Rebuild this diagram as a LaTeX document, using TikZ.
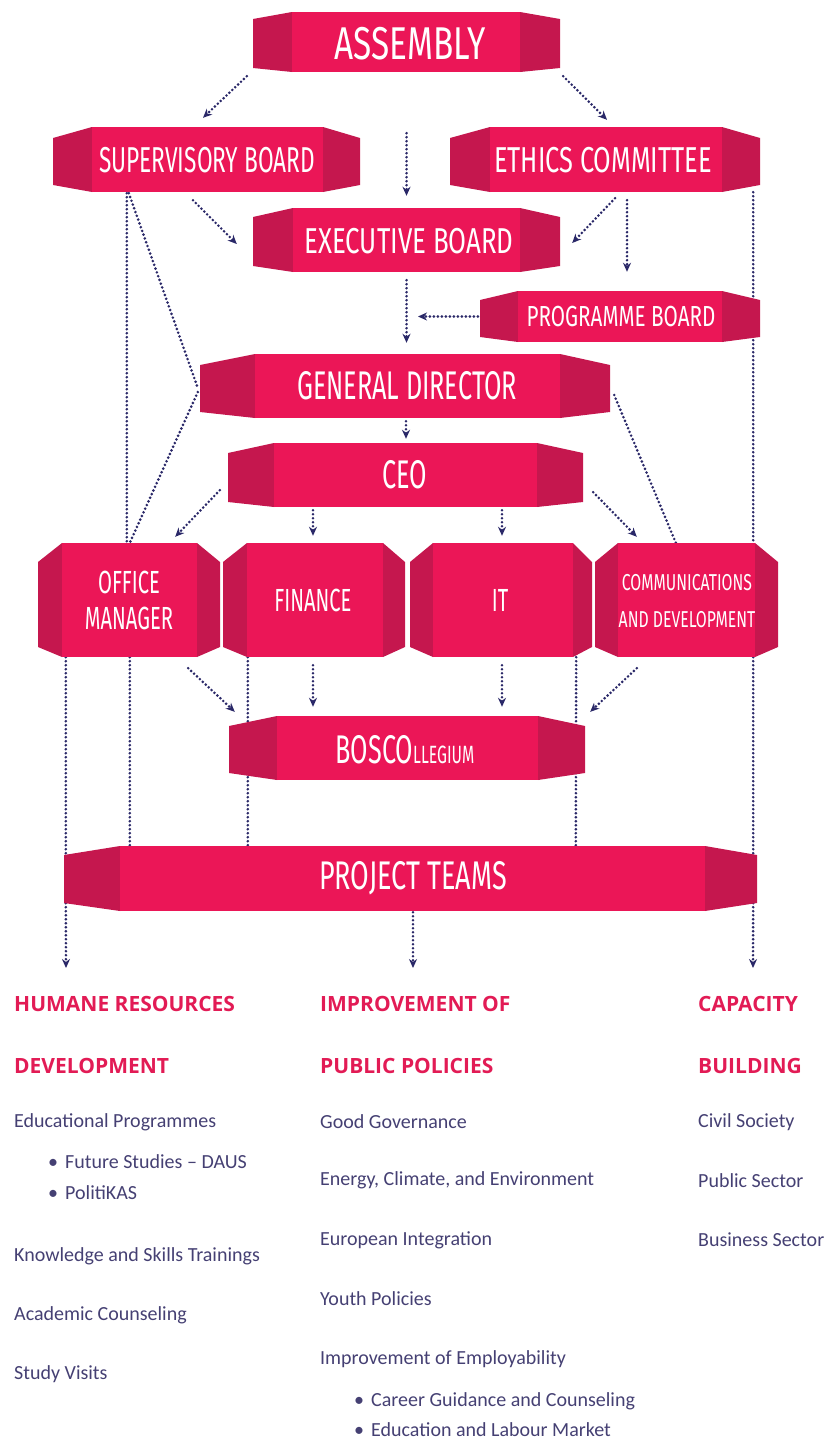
\documentclass[tikz,border=0pt]{standalone}
\usepackage{fontspec}
\setmainfont{Carlito}
\newfontfamily\boxfont[FakeStretch=0.63]{Fira Sans}
\newfontfamily\headfont{Open Sans}
\usetikzlibrary{arrows.meta,calc}
\definecolor{mainc}{HTML}{EB1657}
\definecolor{sidec}{HTML}{C5174E}
\definecolor{linec}{HTML}{2A2868}
\definecolor{headc}{HTML}{E21B55}
\definecolor{bodyc}{HTML}{454073}
\pgfdeclarelayer{bg}
\pgfsetlayers{bg,main}
\newcommand{\boxsz}[1]{\fontsize{#1}{#1}\selectfont}
\newcommand{\wid}[2]{\scalebox{#1}[1]{#2}}
% name, xl, xil, xir, xr, yt, yb, dt, db
\newcommand{\pbox}[9]{%
  \fill[sidec] (#2,#6+#8) -- (#3,#6) -- (#3,#7) -- (#2,#7-#9) -- cycle;
  \fill[sidec] (#5,#6+#8) -- (#4,#6) -- (#4,#7) -- (#5,#7-#9) -- cycle;
  \fill[mainc] (#3,#6) rectangle (#4,#7);
  \node[inner sep=0, minimum width={#5-#2}, minimum height={#7-#6}] (#1) at ({(#2+#5)/2},{(#6+#7)/2}) {};
}
\begin{document}
\begin{tikzpicture}[x=1pt,y=-1pt,
  dots/.style={linec, line width=2.9pt, line cap=round, dash pattern=on 0pt off 4pt},
  arr/.style={dots, -{Stealth[length=9pt,width=8pt]}},
  boxtxt/.style={text=white, inner sep=0, align=center},
  head/.style={anchor=west, text=headc, inner sep=0, font=\headfont\bfseries\fontsize{21}{21}\selectfont},
  body/.style={anchor=west, text=bodyc, inner sep=0, font=\fontsize{20}{20}\selectfont}]
\useasboundingbox (0,0) rectangle (826,1443);

\pbox{asm}{253}{292}{520}{560}{12}{72}{7}{4}
\pbox{sup}{53}{92}{323}{360}{127}{192}{11}{7}
\pbox{eth}{450}{490}{722}{760}{127}{192}{11}{7}
\pbox{exe}{253}{293}{520}{560}{208}{272}{9}{6}
\pbox{prg}{480}{518}{722}{760}{291}{342}{9}{5}
\pbox{gd}{200}{255}{560}{610}{354}{418}{11}{6}
\pbox{ceo}{228}{274}{537}{583}{443}{507}{10}{5}
\pbox{off}{38}{62}{197}{220}{543}{657}{19}{10}
\pbox{fin}{223}{247}{383}{405}{543}{657}{19}{10}
\pbox{it}{410}{433}{573}{592}{543}{657}{19}{10}
\pbox{com}{595}{618}{755}{778}{543}{657}{19}{10}
\pbox{bos}{229}{277}{538}{585}{716}{780}{10}{7}
\pbox{prj}{64}{120}{705}{757}{846}{911}{9}{8}

\node[boxtxt, font=\boxfont\boxsz{46}] (asm-t) at (410,44) {\wid{1.15}{ASSEMBLY}};
\node[boxtxt, font=\boxfont\boxsz{36}] (sup-t) at (207,160) {SUPERVISORY BOARD};
\node[boxtxt, font=\boxfont\boxsz{36}] (eth-t) at (603,160) {\wid{1.12}{ETHICS COMMITTEE}};
\node[boxtxt, font=\boxfont\boxsz{36}] (exe-t) at (409,241) {\wid{1.14}{EXECUTIVE BOARD}};
\node[boxtxt, font=\boxfont\boxsz{29}] (prg-t) at (621,317) {\wid{1.13}{PROGRAMME BOARD}};
\node[boxtxt, font=\boxfont\boxsz{40}] (gd-t) at (407,386) {GENERAL DIRECTOR};
\node[boxtxt, font=\boxfont\boxsz{40}] (ceo-t) at (405,475) {CEO};
\node[boxtxt, font=\boxfont\fontsize{32}{36}\selectfont] (off-t) at (129,600) {OFFICE\\MANAGER};
\node[boxtxt, font=\boxfont\boxsz{32}] (fin-t) at (313,600) {FINANCE};
\node[boxtxt, font=\boxfont\boxsz{32}] (it-t) at (500,600) {IT};
\node[boxtxt, font=\boxfont\fontsize{23}{37}\selectfont] (com-t) at (687,601) {\wid{1.09}{COMMUNICATIONS}\\\wid{1.09}{AND DEVELOPMENT}};
\node[boxtxt, font=\boxfont] (bos-t) at (405,750) {{\boxsz{40}BOSCO}{\boxsz{25}LLEGIUM}};
\node[boxtxt, font=\boxfont\boxsz{40}] (prj-t) at (413,878) {\wid{1.07}{PROJECT TEAMS}};

\coordinate (pin) at (418,316.5);
\coordinate (e1) at (66,968);
\coordinate (e2) at (413,968);
\coordinate (e3) at (753,968);

\begin{pgfonlayer}{bg}
\draw[arr] ([shift={(-6,4)}]asm.south west) -- ([shift={(-3.5,-9)}]sup.north);
\draw[arr] ([shift={(3,4)}]asm.south east) -- ([shift={(2,-7)}]eth.north);
\draw[arr] ([shift={(0,61)}]asm.south) -- ([shift={(0,-12)}]exe.north);
\draw[arr] ([shift={(-13.5,8)}]sup.south) -- ([shift={(-16,4)}]exe.west);
\draw[arr] ([shift={(10,6)}]eth.south) -- ([shift={(12,3)}]exe.east);
\draw[arr] ([shift={(22,8)}]eth.south) -- ([shift={(7,-19)}]prg.north);
\draw[arr] ([shift={(0,8)}]exe.south) -- ([shift={(1.5,-11)}]gd.north);
\draw[arr] ([shift={(-2,0)}]prg.west) -- (pin);
\draw[arr] ([shift={(1,3)}]gd.south) -- ([shift={(0.5,-4)}]ceo.north);
\draw[arr] ([shift={(-8,-17)}]ceo.south west) -- ([shift={(-45,-6)}]off.north east);
\draw[arr] ([shift={(-92.5,3)}]ceo.south) -- ([shift={(-1,-7)}]fin.north);
\draw[arr] ([shift={(96.5,3)}]ceo.south) -- ([shift={(1,-7)}]it.north);
\draw[arr] ([shift={(10,-15)}]ceo.south east) -- ([shift={(42,-6)}]com.north west);
\draw[dots] ([shift={(74,1)}]sup.south west) -- ([shift={(89,0)}]off.north west);
\draw[dots] ([shift={(76,1)}]sup.south west) -- ([shift={(-2,2)}]gd.west);
\draw[dots] ([shift={(-2,6)}]gd.west) -- ([shift={(92,0)}]off.north west);
\draw[dots] ([shift={(-7,0)}]eth.south east) -- ([shift={(-25,0)}]com.north east);
\draw[dots] ([shift={(4,9)}]gd.east) -- ([shift={(81,0)}]com.north west);
\draw[arr] ([shift={(-32,11)}]off.south east) -- ([shift={(6,-4)}]bos.north west);
\draw[arr] ([shift={(-1,8)}]fin.south) -- ([shift={(-94,-9)}]bos.north);
\draw[arr] ([shift={(1,8)}]it.south) -- ([shift={(95,-9)}]bos.north);
\draw[arr] ([shift={(42,11)}]com.south west) -- ([shift={(5,-4)}]bos.north east);
\draw[dots] ([shift={(28,0)}]off.south west) -- ([shift={(2,12)}]prj.north west);
\draw[dots] ([shift={(92,0)}]off.south west) -- ([shift={(66,0)}]prj.north west);
\draw[dots] ([shift={(25,0)}]fin.south west) -- ([shift={(184,0)}]prj.north west);
\draw[dots] ([shift={(-16,0)}]it.south east) -- ([shift={(512,0)}]prj.north west);
\draw[dots] ([shift={(-25,0)}]com.south east) -- ([shift={(-4,12)}]prj.north east);
\draw[arr] ([shift={(2,-12)}]prj.south west) -- (e1);
\draw[arr] ([shift={(2.5,1)}]prj.south) -- (e2);
\draw[arr] ([shift={(-4,-12)}]prj.south east) -- (e3);
\end{pgfonlayer}

% column 1
\node[head] (h1a) at (14,1004) {HUMANE RESOURCES};
\node[head] (h1b) at (14,1066) {DEVELOPMENT};
\node[body] (t11) at (14,1122) {Educational Programmes};
\node[body] (t12) at (48,1162) {\makebox[17pt][l]{\textbullet}Future Studies – DAUS};
\node[body] (t13) at (48,1193) {\makebox[17pt][l]{\textbullet}PolitiKAS};
\node[body] (t14) at (14,1256) {Knowledge and Skills Trainings};
\node[body] (t15) at (14,1315) {Academic Counseling};
\node[body] (t16) at (14,1374) {Study Visits};
% column 2
\node[head] (h2a) at (320,1004) {IMPROVEMENT OF};
\node[head] (h2b) at (320,1066) {PUBLIC POLICIES};
\node[body] (t21) at (320,1122) {Good Governance};
\node[body] (t22) at (320,1180) {Energy, Climate, and Environment};
\node[body] (t23) at (320,1240) {European Integration};
\node[body] (t24) at (320,1299) {Youth Policies};
\node[body] (t25) at (320,1359) {Improvement of Employability};
\node[body] (t26) at (354,1401) {\makebox[17pt][l]{\textbullet}Career Guidance and Counseling};
\node[body] (t27) at (354,1430) {\makebox[17pt][l]{\textbullet}Education and Labour Market};
% column 3
\node[head] (h3a) at (698,1004) {CAPACITY};
\node[head] (h3b) at (698,1066) {BUILDING};
\node[body] (t31) at (698,1122) {Civil Society};
\node[body] (t32) at (698,1181) {Public Sector};
\node[body] (t33) at (698,1240) {Business Sector};
\end{tikzpicture}
\end{document}
